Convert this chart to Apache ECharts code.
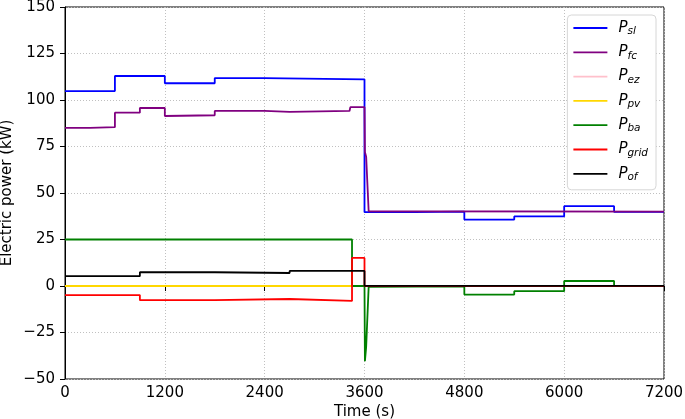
<!DOCTYPE html>
<html>
<head>
<meta charset="utf-8">
<script src="https://cdn.jsdelivr.net/npm/echarts@6/dist/echarts.min.js"></script>
<style>
    html, body { margin: 0; padding: 0; background: #fff; }
    #chart { width: 685px; height: 419px; }
</style>
</head>
<body>
<div id="chart"></div>
<script>
// breakpoints of each power curve: [time (s), power (kW)]
const pSl = [[0,104.8],[600,104.8],[600,112.9],[1200,112.9],[1200,109],[1800,109],[1800,111.8],[2400,111.8],[2400,111.1],[3600,111.1],
    [3600,39.7],[4200,39.7],[4200,40],[4800,40],[4800,35.7],[5400,35.7],[5400,37.4],[6000,37.4],[6000,42.9],[6600,42.9],[6600,39.8],[7200,39.8]];
const pFc = [[0,85],[300,85],[310,85.5],[600,85.4],[600,93.2],[900,93.2],[900,95.7],[1200,95.7],[1200,91.4],[1800,91.8],[1800,94.1],[2400,94.1],
    [2400,93.6],[2700,93.6],[2700,94.1],[3420,94.1],[3430,96.2],[3600,96.2],[3605,72],[3620,69.5],[3650,40.2],[7200,40]];
const pEz = [[0,0],[7200,0]];
const pPv = [[0,0],[7200,0]];
const pBa = [[0,25],[3450,25],[3450,0],[3600,0],[3605,-40.4],[3620,-32.7],[3650,-0.4],[4800,-0.2],[4800,-4.6],[5400,-4.6],[5400,-2.8],[6000,-2.8],
    [6000,2.7],[6600,2.7],[6600,0],[7200,0]];
const pGrid = [[0,-4.9],[300,-4.9],[310,-4.6],[900,-4.9],[900,-7.6],[1800,-7.6],[1800,-6.7],[2700,-7],[2700,-8],[3450,-8],[3450,15.1],[3600,15.1],
    [3600,0],[7200,0]];
const pOf = [[0,5.3],[900,5.3],[900,7.4],[1800,7.4],[1800,7],[2700,7],[2700,8.1],[3600,8.1],[3600,0.1],[7200,0.1]];

const names = ['sl', 'fc', 'ez', 'pv', 'ba', 'grid', 'of'];
const colors = ['#0000ff', '#800080', '#ffc0cb', '#ffd700', '#008000', '#ff0000', '#000000'];
const curves = [pSl, pFc, pEz, pPv, pBa, pGrid, pOf];

const xTicks = { min: 0, max: 7200, step: 1200 };
const yTicks = { min: -50, max: 150, step: 25 };

let myChart = echarts.init(document.getElementById('chart'));
const font = 'DejaVu Sans';
const lineIcon = 'path://M0,0H34V1.8H0Z';
let option = {
    animation: false,
    grid: {
        left: 65, right: 21, top: 7, bottom: 40,
        outerBoundsMode: 'none',
        containLabel: false,
        show: true, borderColor: '#000', borderWidth: 1
    },
    legend: {
        orient: 'vertical',
        right: 29, top: 15,
        padding: [4, 8, 7, 6],
        itemGap: 6.3,
        itemWidth: 34,
        itemHeight: 20,
        backgroundColor: '#fff',
        borderColor: '#d6d6d6',
        borderWidth: 1,
        borderRadius: 4,
        data: names.map(n => ({ name: 'P_' + n, icon: lineIcon })),
        formatter: function (name) {
            return '{p|P}{s|' + name.slice(2) + '}';
        },
        textStyle: {
            padding: [0, 0, 0, 6],
            rich: {
                p: { fontFamily: font, fontStyle: 'italic', fontSize: 15, color: '#000', lineHeight: 20 },
                s: { fontFamily: font, fontStyle: 'italic', fontSize: 10.5, color: '#000', lineHeight: 20, padding: [7, 0, 0, 0] }
            }
        }
    },
    xAxis: {
        type: 'value',
        min: xTicks.min, max: xTicks.max, interval: xTicks.step,
        name: 'Time (s)',
        nameLocation: 'middle',
        nameGap: 26,
        nameMoveOverlap: false,
        nameTextStyle: { fontFamily: font, fontSize: 15, color: '#000' },
        axisLine: { show: true, lineStyle: { color: '#000', width: 1 } },
        axisTick: { show: true, length: 5, lineStyle: { color: '#000' } },
        axisLabel: { fontFamily: font, fontSize: 15, color: '#000', margin: 7, formatter: v => String(v) },
        splitLine: { show: true, lineStyle: { color: '#c0c0c0', type: [1, 2], width: 1 } }
    },
    yAxis: {
        type: 'value',
        min: yTicks.min, max: yTicks.max, interval: yTicks.step,
        name: 'Electric power (kW)',
        nameLocation: 'middle',
        nameGap: 50,
        nameMoveOverlap: false,
        nameTextStyle: { fontFamily: font, fontSize: 15, color: '#000' },
        axisLine: { show: true, lineStyle: { color: '#000', width: 1 } },
        axisTick: { show: true, length: 5, lineStyle: { color: '#000' } },
        axisLabel: { fontFamily: font, fontSize: 15, color: '#000', margin: 10, formatter: v => String(v).replace('-', '\u2212') },
        splitLine: { show: true, lineStyle: { color: '#c0c0c0', type: [1, 2], width: 1 } }
    },
    series: curves.map((d, i) => ({
        name: 'P_' + names[i],
        type: 'line',
        data: d,
        symbol: 'none',
        color: colors[i],
        lineStyle: { color: colors[i], width: 1.8 }
    }))
};
myChart.setOption(option);
window.addEventListener('resize', () => { myChart.resize(); });
</script>
</body>
</html>
